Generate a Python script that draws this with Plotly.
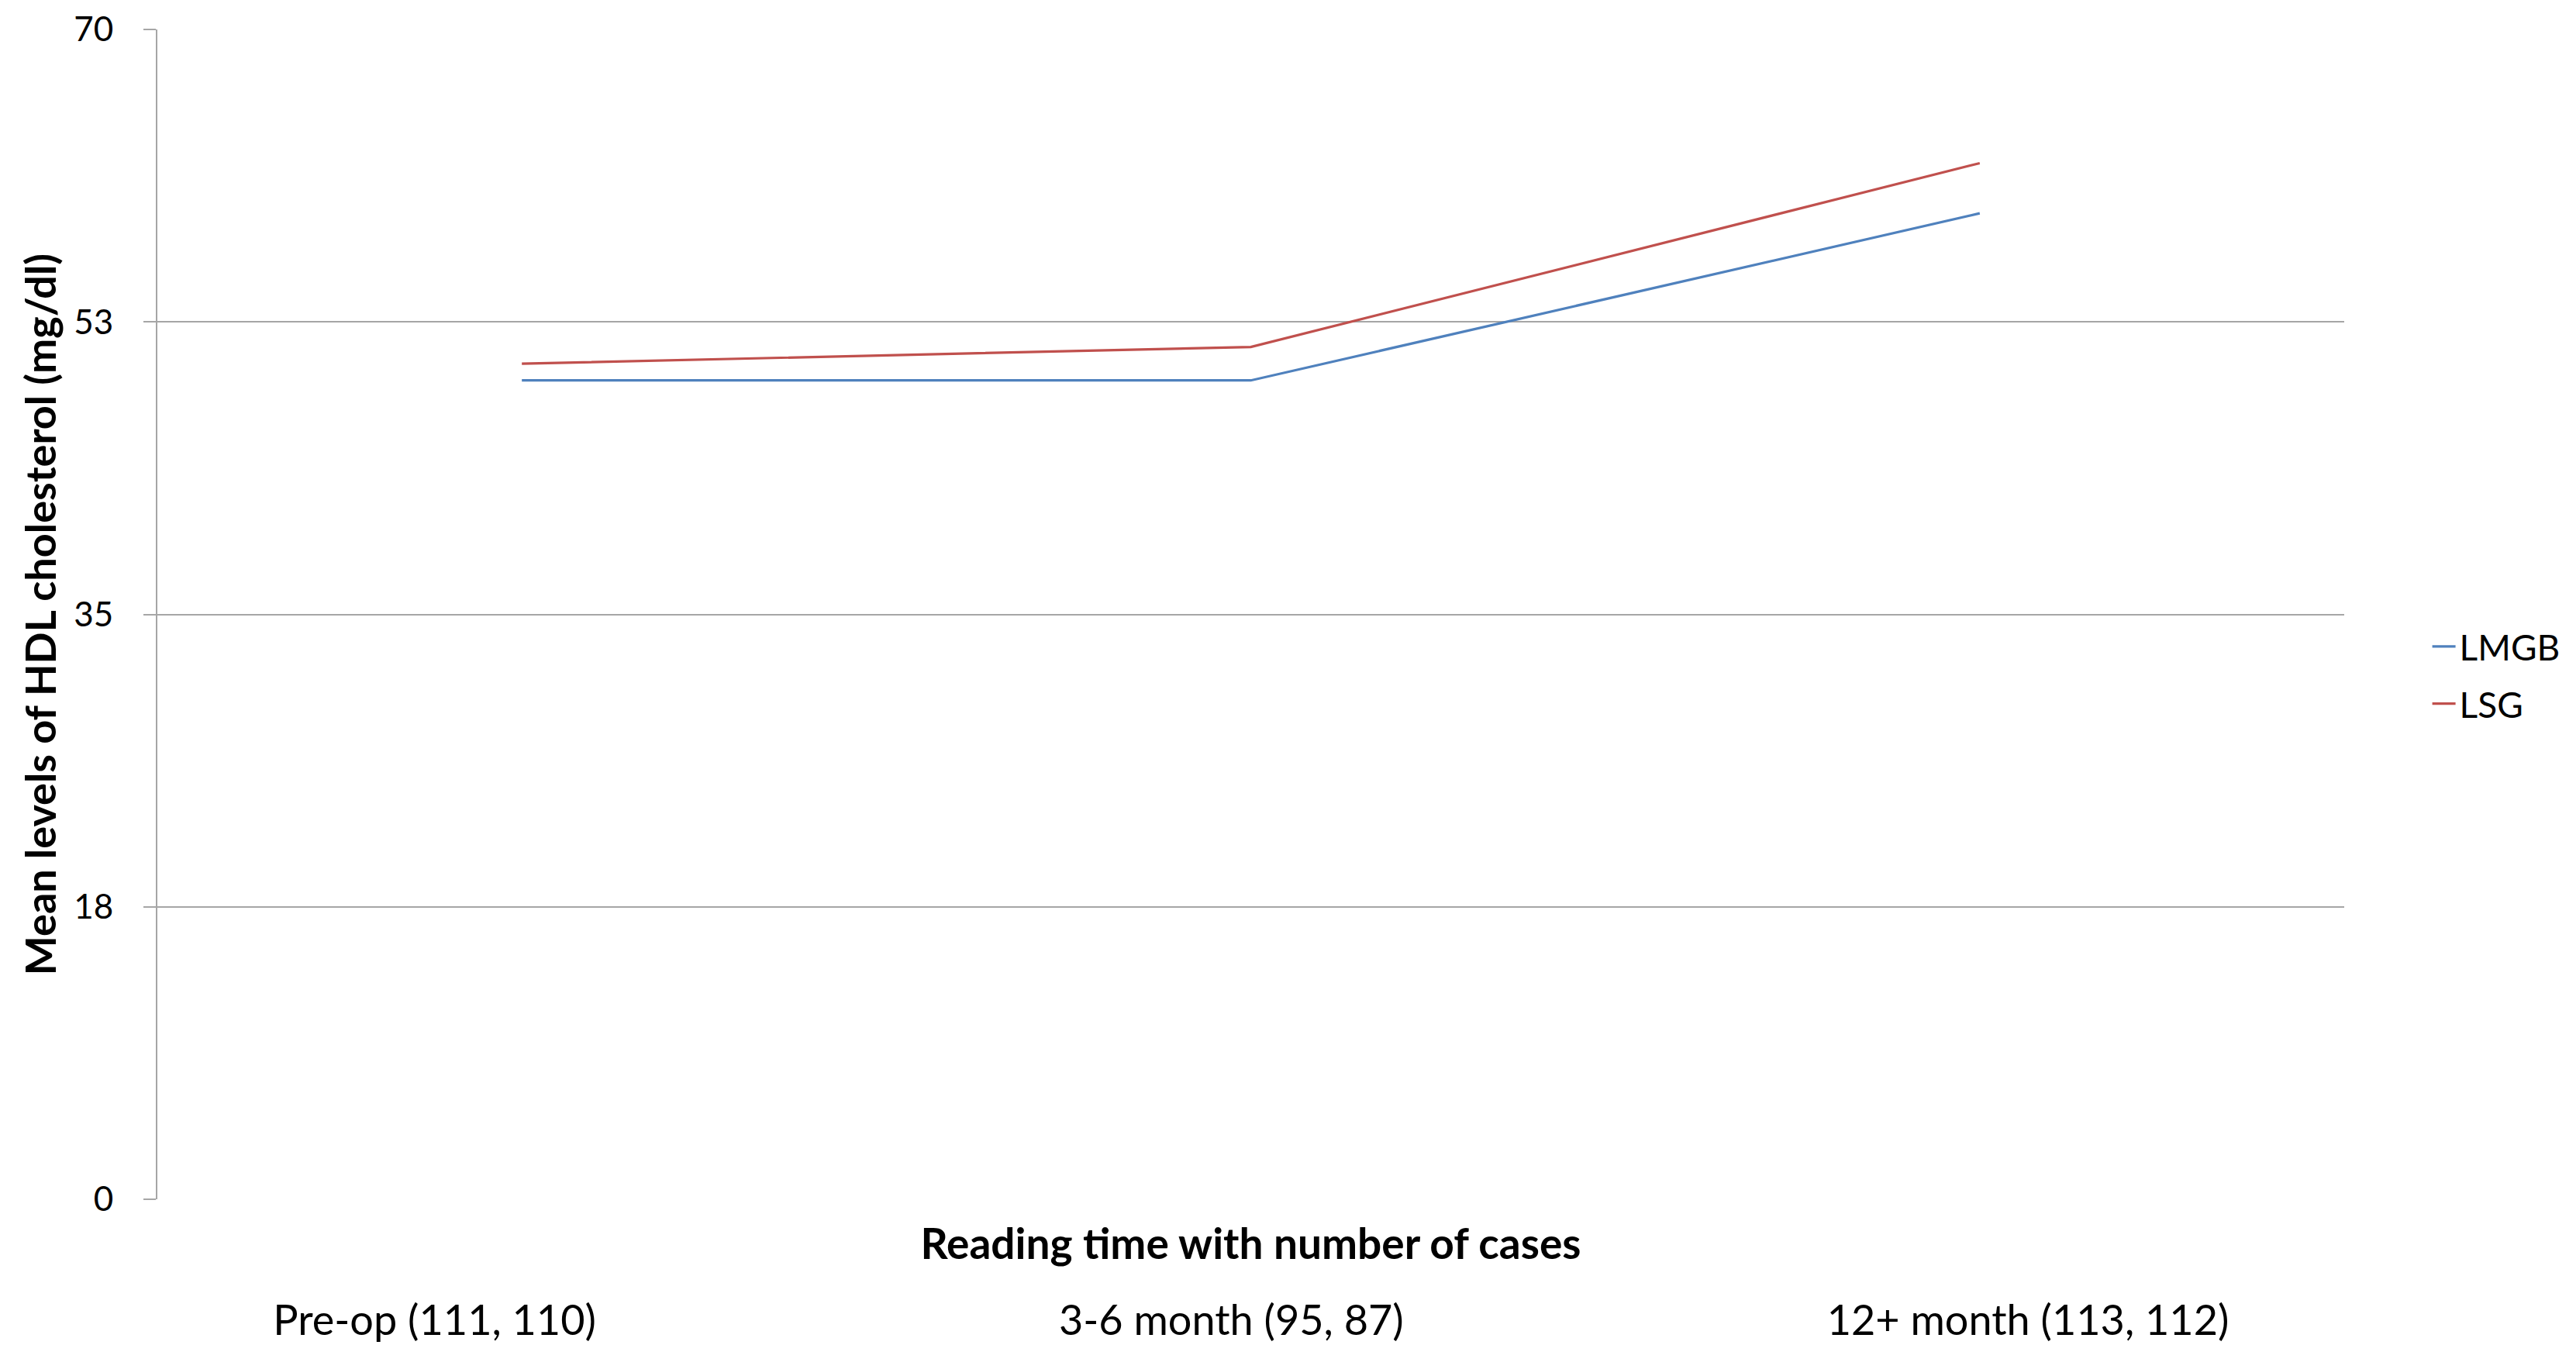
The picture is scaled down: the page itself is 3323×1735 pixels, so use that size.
import plotly.graph_objects as go

categories = ["Pre-op (111, 110)", "3-6 month (95, 87)", "12+ month (113, 112)"]
lmgb = [49, 49, 59]
lsg = [50, 51, 62]
ytick_vals = [0, 17.5, 35, 52.5, 70]
ytick_text = ["0", "18", "35", "53", "70"]

FONT = "Lato"
GRID = "#a6a6a6"

fig = go.Figure()
fig.add_trace(go.Scatter(x=categories, y=lmgb, mode="lines", name="LMGB",
                         line=dict(color="#4f81bd", width=3.2), legendgroup="a"))
fig.add_trace(go.Scatter(x=categories, y=lsg, mode="lines", name="LSG",
                         line=dict(color="#c0504d", width=3.2), legendgroup="b"))

W, H = 3323, 1735
OFF = 8  # page body margin
L, R, T, B = 203 - OFF, 3323 - 3024 + OFF, 38 - OFF, 1735 - 1547 + OFF

fig.update_layout(
    width=W, height=H,
    margin=dict(l=L, r=R, t=T, b=B, autoexpand=False),
    paper_bgcolor="white", plot_bgcolor="white",
    font=dict(family=FONT, color="black"),
    showlegend=True,
    legend=dict(x=1.0385, xanchor="left", y=0.448, yanchor="middle",
                font=dict(size=46, family=FONT), tracegroupgap=11,
                traceorder="grouped", bgcolor="rgba(0,0,0,0)"),
    xaxis=dict(type="category", range=[-0.5, 2.5], showticklabels=False,
               showgrid=False, zeroline=False, showline=False, ticks="",
               title=dict(text="<b>Reading time with number of cases</b>",
                          font=dict(size=55, family=FONT), standoff=38)),
    xaxis2=dict(overlaying="x", anchor="y", side="bottom",
                range=[-0.348, 2.397], tickmode="array",
                tickvals=list(range(len(categories))), ticktext=categories,
                showgrid=False, zeroline=False, showline=False, ticks="",
                tickfont=dict(size=54, family=FONT), ticklabelstandoff=120),
    yaxis=dict(range=[0, 70], tickmode="array", tickvals=ytick_vals,
               ticktext=ytick_text, showgrid=True, gridcolor=GRID, gridwidth=2,
               showline=True, linecolor=GRID, linewidth=2, zeroline=False,
               ticks="outside", ticklen=16, tickcolor=GRID, tickwidth=2,
               tickfont=dict(size=44, family=FONT), ticklabelstandoff=30,
               title=dict(text="<b>Mean levels of HDL cholesterol (mg/dl)</b>",
                          font=dict(size=54, family=FONT), standoff=5)),
)
# invisible trace to activate xaxis2
fig.add_trace(go.Scatter(x=[0, 1, 2], y=[None, None, None], xaxis="x2",
                         showlegend=False, hoverinfo="skip"))

fig.write_html("out.html")
